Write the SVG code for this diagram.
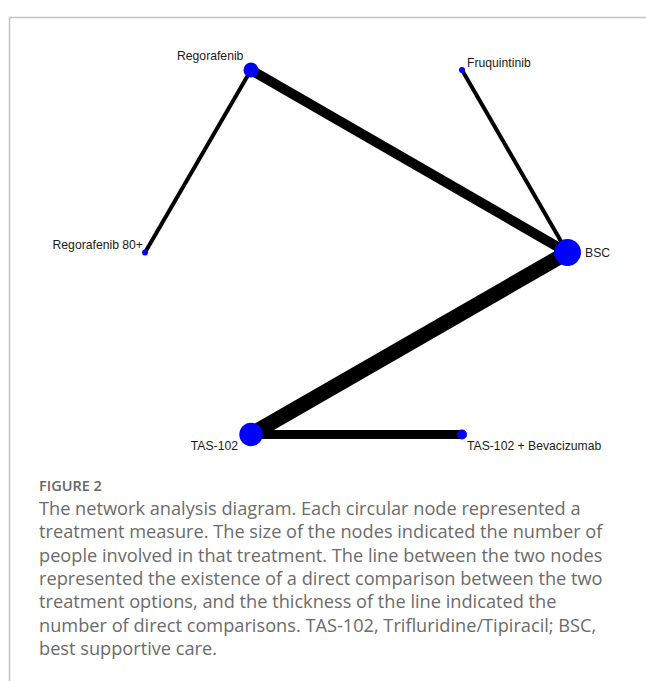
<svg xmlns="http://www.w3.org/2000/svg" width="646" height="681" viewBox="0 0 646 681">
<style>
.frame{fill:none;stroke:#c4c4c4;stroke-width:1.5}
.edge{stroke:#000;stroke-linecap:butt;fill:none}
.node{fill:#0000ff}
.lbl{font-family:"Liberation Sans",Arial,sans-serif;font-size:12.2px;fill:#1a1a1a}
.fig{font-family:"Open Sans",sans-serif;font-size:14.5px;font-weight:600;fill:#666}
.cap{font-family:"Open Sans",sans-serif;font-size:18.2px;fill:#6b6b6b}
</style>
<rect width="646" height="681" fill="#fff"/>
<path class="frame" d="M9.5,681 V17.5 H646"/>
<g id="edges">
<line class="edge" x1="251" y1="70" x2="145" y2="252.5" stroke-width="4"/>
<line class="edge" x1="251" y1="70" x2="567.5" y2="252.5" stroke-width="10"/>
<line class="edge" x1="462" y1="70" x2="567.5" y2="252.5" stroke-width="4"/>
<line class="edge" x1="567.5" y1="252.5" x2="251" y2="434.5" stroke-width="15"/>
<line class="edge" x1="251" y1="434.5" x2="462" y2="434.5" stroke-width="9"/>
</g>
<g id="node-regorafenib"><circle class="node" cx="251" cy="70" r="7.5"/><text class="lbl" x="177" y="60">Regorafenib</text></g>
<g id="node-fruquintinib"><circle class="node" cx="462" cy="70" r="3"/><text class="lbl" x="467" y="67">Fruquintinib</text></g>
<g id="node-regorafenib80"><circle class="node" cx="145" cy="252.5" r="3"/><text class="lbl" x="143" y="248.5" text-anchor="end">Regorafenib 80+</text></g>
<g id="node-bsc"><circle class="node" cx="567.5" cy="252.5" r="13.5"/><text class="lbl" x="585" y="257">BSC</text></g>
<g id="node-tas102"><circle class="node" cx="251" cy="434.5" r="11.7"/><text class="lbl" x="238" y="450" text-anchor="end">TAS-102</text></g>
<g id="node-tas102bev"><circle class="node" cx="462" cy="434.5" r="5"/><text class="lbl" x="467" y="450">TAS-102 + Bevacizumab</text></g>
<g id="caption">
<text class="fig" x="39" y="491">FIGURE 2</text>
<text class="cap" x="39" y="515">The network analysis diagram. Each circular node represented a</text>
<text class="cap" x="39" y="538.3">treatment measure. The size of the nodes indicated the number of</text>
<text class="cap" x="39" y="561.6">people involved in that treatment. The line between the two nodes</text>
<text class="cap" x="39" y="585">represented the existence of a direct comparison between the two</text>
<text class="cap" x="39" y="608.3">treatment options, and the thickness of the line indicated the</text>
<text class="cap" x="39" y="631.6">number of direct comparisons. TAS-102, Trifluridine/Tipiracil; BSC,</text>
<text class="cap" x="39" y="655">best supportive care.</text>
</g>
</svg>
